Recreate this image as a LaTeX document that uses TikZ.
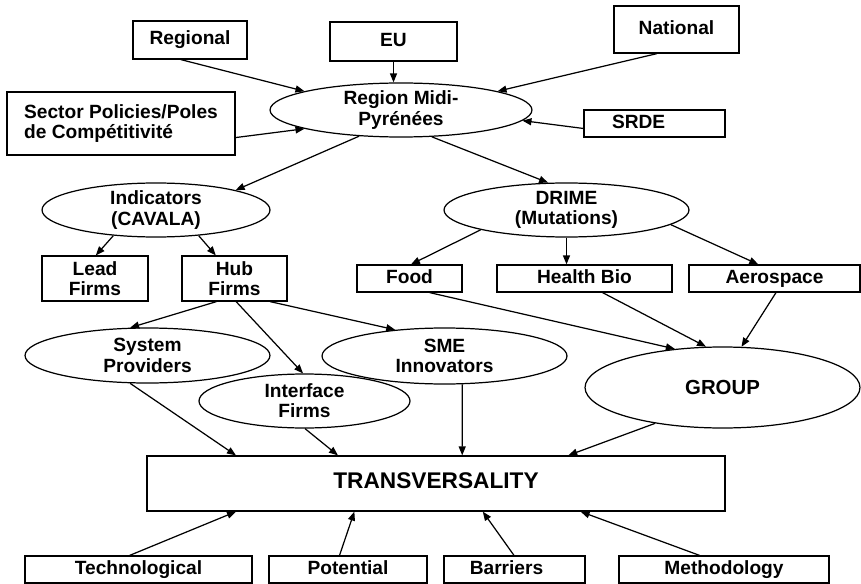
\documentclass[tikz,border=0pt]{standalone}
\usepackage{fontspec}
\setmainfont{Liberation Sans}
\usetikzlibrary
  {
    arrows.meta,      % triangle arrow heads
    shapes.geometric, % ellipses
  }

\begin{document}
\begin{tikzpicture}
    [
      x=0.02cm, y=-0.02cm,
      line width=0.7pt,
      >={Triangle[length=1.8mm,width=1.4mm]},
      box/.style=
        {
          rectangle,
          draw=black,
          inner sep=0pt,
          align=center,
          font=\bfseries\fontsize{10.9}{11.5}\selectfont,
        },
      flat/.style=
        {
          text height=0.73em,
          text depth=0.2em,
        },
      oval/.style=
        {
          ellipse,
          draw=black,
          inner sep=0pt,
          align=center,
          font=\bfseries\fontsize{10.9}{11.5}\selectfont,
        },
    ]
    \useasboundingbox (0,0) rectangle (861,584);

    % policy levels
    \node[box, flat, minimum width=2.28cm, minimum height=0.76cm] (regional) at (190,40)    {Regional};
    \node[box, flat, minimum width=2.54cm, minimum height=0.78cm] (eu)       at (393.5,41.5) {EU};
    \node[box, flat, minimum width=2.50cm, minimum height=0.94cm] (national) at (676.5,29.5) {National};
    \node[box, minimum width=4.56cm, minimum height=1.26cm, align=left]
                                                                  (sector)   at (121,123.5)  {Sector Policies/Poles\\de Compétitivité};
    \node[box, flat, minimum width=2.82cm, minimum height=0.54cm] (srde)     at (654.5,123.5)
      {\makebox[2.82cm][l]{\hspace{0.56cm}SRDE}};
    \node[oval, minimum width=5.24cm, minimum height=1.08cm]      (region)   at (401,110)    {Region Midi-\\Pyrénées};

    % second level
    \node[oval, minimum width=4.56cm, minimum height=1.08cm]       (indicators) at (156,210)   {Indicators\\(CAVALA)};
    \node[oval, minimum width=4.90cm, minimum height=1.08cm]       (drime)      at (566.5,210) {DRIME\\(Mutations)};
    \node[box, minimum width=2.12cm, minimum height=0.90cm]        (lead)       at (95,278.5)  {Lead\\Firms};
    \node[box, minimum width=2.10cm, minimum height=0.90cm]        (hub)        at (234.5,278.5) {Hub\\Firms};
    \node[box, flat, minimum width=2.10cm, minimum height=0.54cm]  (food)       at (409.5,278.5) {Food};
    \node[box, flat, minimum width=3.50cm, minimum height=0.54cm]  (health)     at (584.5,278.5) {Health Bio};
    \node[box, flat, minimum width=3.42cm, minimum height=0.54cm]  (aero)       at (774.5,278.5) {Aerospace};

    % firms and group
    \node[oval, minimum width=4.90cm, minimum height=1.10cm] (sysprov)   at (147.5,355.5) {System\\Providers};
    \node[oval, minimum width=4.90cm, minimum height=1.12cm] (sme)       at (444.5,356)   {SME\\Innovators};
    \node[oval, minimum width=4.22cm, minimum height=1.08cm] (interface) at (304.5,401)   {Interface\\Firms};
    \node[oval, minimum width=5.50cm, minimum height=1.62cm,
          font=\bfseries\fontsize{11.6}{13}\selectfont]      (group)     at (722.5,387.5) {GROUP};

    % transversality and its inputs
    \node[box, flat, minimum width=11.56cm, minimum height=1.10cm,
          font=\bfseries\fontsize{12.9}{14}\selectfont]            (transv)    at (436,483.5)   {TRANSVERSALITY};
    \node[box, flat, minimum width=4.54cm, minimum height=0.54cm] (tech)      at (138.5,569.5) {Technological};
    \node[box, flat, minimum width=3.16cm, minimum height=0.54cm] (potential) at (348,569.5)   {Potential};
    \node[box, flat, minimum width=2.82cm, minimum height=0.54cm] (barriers)  at (514.5,569.5)
      {\makebox[2.82cm]{Barriers\hspace{0.32cm}}};
    \node[box, flat, minimum width=4.20cm, minimum height=0.54cm] (method)    at (724,569.5)   {Methodology};

    % into the region
    \draw [->] (regional.245) -- (region.169);
    \draw [->] (eu) -- (eu |- region.north);
    \draw [->] (national.231) -- (region.11);
    \draw [->] (sector.353) -- (region.191);
    \draw [->] (srde.184) -- (region.355);

    % out of the region
    \draw [->] (region.212) -- (indicators.14);
    \draw [->] (region.319) -- (drime.124);
    \draw [->] (indicators.211) -- (lead.88);
    \draw [->] (indicators.329) -- (hub.129);
    \draw [->] (drime.193) -- (food.84);
    \draw [->] (drime) -- (drime |- health.north);
    \draw [->] (drime.352) -- (aero.139);

    % sectors to group
    \draw [->] (food.325) -- (group.141);
    \draw [->] (health.322) -- (group.112);
    \draw [->] (aero.276) -- (group.65);

    % hub firms
    \draw [->] (hub.232) -- (sysprov.122);
    \draw [->] (hub.274) -- (interface.93);
    \draw [->] (hub.327) -- (sme.152);

    % into transversality
    \draw [->] (sysprov.238) -- (transv.172);
    \draw [->] (interface.271) -- (transv.164);
    \draw [->] (sme.302) -- (transv.47);
    \draw [->] (group.208) -- (transv.12);
    \draw [->] (tech.122) -- (transv.188);
    \draw [->] (potential.121) -- (transv.199);
    \draw [->] (barriers.92) -- (transv.329);
    \draw [->] (method.150) -- (transv.349);
  \end{tikzpicture}
\end{document}
